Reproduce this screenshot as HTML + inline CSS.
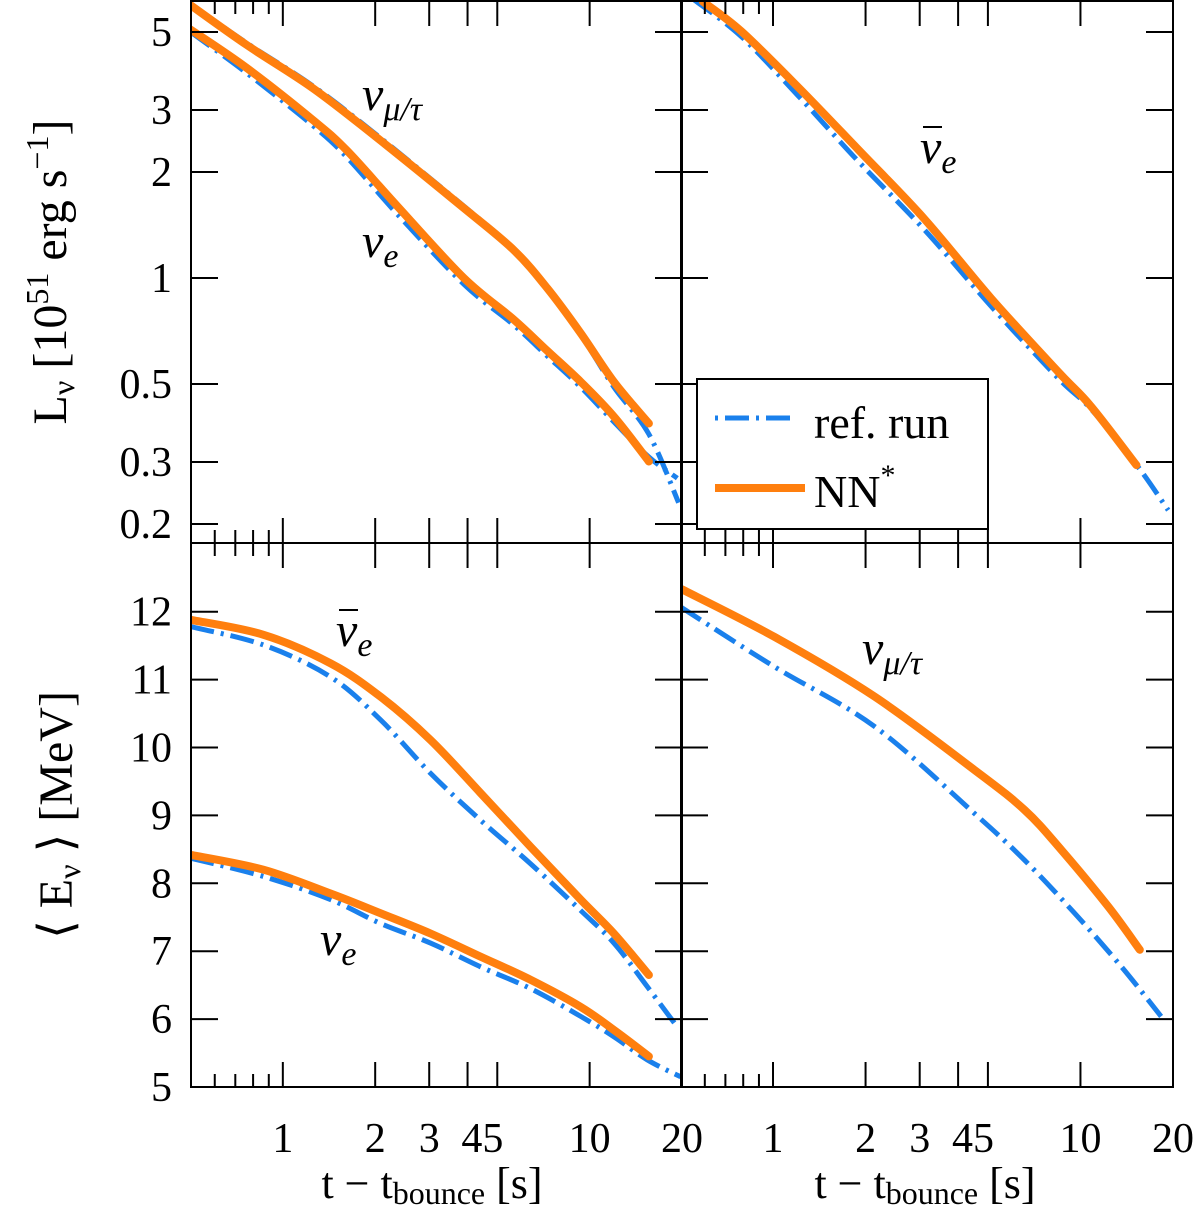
<!DOCTYPE html>
<html><head><meta charset="utf-8"><style>
html,body{margin:0;padding:0;background:#fff;}
svg{display:block;font-family:"Liberation Serif",serif;}
</style></head><body>
<svg id="c" width="1200" height="1210" viewBox="0 0 1200 1210" xmlns="http://www.w3.org/2000/svg"></svg>
<script>
// ---- data ----
const tL_mutau_nn=[0.5,0.763,1.26,2.08,3.89,5.66,7.28,9.35,12.0,15.6];
const L_mutau_nn=[5.96,4.59,3.45,2.46,1.58,1.20,0.935,0.697,0.507,0.386];
const tL_mutau_ref=[0.5,0.763,1.26,2.08,3.89,5.66,7.28,9.35,12.0,15.6,19.5];
const L_mutau_ref=[6.0,4.65,3.5,2.5,1.6,1.21,0.94,0.69,0.49,0.36,0.23];
const tL_e_nn=[0.5,0.763,1.26,1.62,2.36,3.89,5.66,7.28,9.35,12.0,15.6];
const L_e_nn=[5.08,3.95,2.8,2.3,1.6,1.0,0.762,0.621,0.507,0.404,0.301];
const tL_e_ref=[0.5,0.763,1.26,1.62,2.36,3.89,5.66,7.28,9.35,12.0,15.6,19.3];
const L_e_ref=[5.0,3.82,2.7,2.2,1.52,0.96,0.735,0.6,0.49,0.39,0.31,0.27];
const tL_ebar_nn=[0.591,0.789,1.205,1.89,3.11,5.13,8.45,10.8,15.2];
const L_ebar_nn=[6.1,5.02,3.49,2.32,1.47,0.874,0.542,0.433,0.294];
const tL_ebar_ref=[0.55,0.789,1.205,1.89,3.11,5.13,8.45,10.8,15.2,19.3];
const L_ebar_ref=[6.2,4.85,3.3,2.15,1.37,0.83,0.52,0.425,0.295,0.219];
const tE_ebar_nn=[0.5,0.865,1.43,2.08,3.03,4.41,6.41,9.35,12.0,15.6];
const E_ebar_nn=[11.88,11.66,11.24,10.75,10.11,9.33,8.54,7.76,7.26,6.65];
const tE_ebar_ref=[0.5,0.865,1.43,2.08,3.03,4.41,6.41,9.35,12.0,15.4,18.9];
const E_ebar_ref=[11.78,11.51,11.04,10.41,9.62,8.93,8.29,7.6,7.12,6.48,5.94];
const tE_e_nn=[0.5,0.865,1.43,2.08,3.03,4.41,6.41,9.35,12.0,15.6];
const E_e_nn=[8.42,8.20,7.85,7.56,7.26,6.92,6.58,6.18,5.84,5.45];
const tE_e_ref=[0.5,0.865,1.43,2.08,3.03,4.41,6.41,9.35,12.0,15.4,19.8];
const E_e_ref=[8.37,8.10,7.76,7.41,7.12,6.77,6.45,6.04,5.74,5.40,5.15];
const tE_mutau_nn=[0.5,1.01,2.14,4.52,6.58,8.67,12.3,15.6];
const E_mutau_nn=[12.34,11.63,10.75,9.67,9.08,8.49,7.66,7.02];
const tE_mutau_ref=[0.5,1.01,2.14,4.52,6.58,9.57,13.6,18.3];
const E_mutau_ref=[12.07,11.19,10.31,9.03,8.34,7.56,6.77,6.04];
const yTicksL=[5,3,2,1,0.5,0.3,0.2];
const yTicksE=[12,11,10,9,8,7,6,5];
const xMajor=[1,2,3,4,5,10];
const xMinor=[0.6,0.7,0.8,0.9];
// ---- layout ----
const NS="http://www.w3.org/2000/svg";
const svg=document.getElementById('c');
const panelsX=[[191,682],[681,1173]];
const topY=[1,543], botY=[543,1087];
const tMin=Math.log10(0.502), tMax=Math.log10(20);
function xs(p,t){const [a,b]=panelsX[p];return a+(Math.log10(t)-tMin)/(tMax-tMin)*(b-a);}
function yL(v){return 278-352*Math.log10(v);}
function yE(v){return 1087-(v-5)*67.9;}
function el(tag,attrs,parent){const e=document.createElementNS(NS,tag);for(const k in attrs)e.setAttribute(k,attrs[k]);(parent||svg).appendChild(e);return e;}
function txt(s,x,y,size,anchor,parent){const e=el('text',{x:x,y:y,'font-size':size,'text-anchor':anchor||'start'},parent);e.textContent=s;return e;}

const defs=el('defs',{});
[[0,topY],[1,topY],[0,botY],[1,botY]].forEach((q,i)=>{const cp=el('clipPath',{id:'cp'+i},defs);el('rect',{x:panelsX[q[0]][0],y:q[1][0],width:panelsX[q[0]][1]-panelsX[q[0]][0],height:q[1][1]-q[1][0]},cp);});

function smoothPath(P){
  let d='M'+P[0][0].toFixed(1)+','+P[0][1].toFixed(1);
  for(let i=0;i<P.length-1;i++){
    const p0=P[i-1]||P[i],p1=P[i],p2=P[i+1],p3=P[i+2]||P[i+1];
    const c1=[p1[0]+(p2[0]-p0[0])/6,p1[1]+(p2[1]-p0[1])/6];
    const c2=[p2[0]-(p3[0]-p1[0])/6,p2[1]-(p3[1]-p1[1])/6];
    d+=' C'+c1.map(v=>v.toFixed(1))+' '+c2.map(v=>v.toFixed(1))+' '+p2.map(v=>v.toFixed(1));
  }
  return d;
}
function series(p,clip,ts,vs,fy,kind,name){
  const P=ts.map((t,i)=>[xs(p,t),fy(vs[i])]);
  const a={d:smoothPath(P),fill:'none','clip-path':'url(#cp'+clip+')','stroke-linejoin':'round'};
  if(kind==='nn'){a.stroke='#ff7f0e';a['stroke-width']=8;a['stroke-linecap']='round';}
  else{a.stroke='#1a80ec';a['stroke-width']=5;a['stroke-dasharray']='24 7 3 7';}
  const e=el('path',a);
  
  
}
series(0,0,tL_mutau_ref,L_mutau_ref,yL,'ref','ref-lum-numutau');
series(0,0,tL_e_ref,L_e_ref,yL,'ref','ref-lum-nue');
series(0,0,tL_mutau_nn,L_mutau_nn,yL,'nn','nn-lum-numutau');
series(0,0,tL_e_nn,L_e_nn,yL,'nn','nn-lum-nue');
series(1,1,tL_ebar_ref,L_ebar_ref,yL,'ref','ref-lum-nuebar');
series(1,1,tL_ebar_nn,L_ebar_nn,yL,'nn','nn-lum-nuebar');
series(0,2,tE_ebar_ref,E_ebar_ref,yE,'ref','ref-energy-nuebar');
series(0,2,tE_e_ref,E_e_ref,yE,'ref','ref-energy-nue');
series(0,2,tE_ebar_nn,E_ebar_nn,yE,'nn','nn-energy-nuebar');
series(0,2,tE_e_nn,E_e_nn,yE,'nn','nn-energy-nue');
series(1,3,tE_mutau_ref,E_mutau_ref,yE,'ref','ref-energy-numutau');
series(1,3,tE_mutau_nn,E_mutau_nn,yE,'nn','nn-energy-numutau');

const axg=el('g',{stroke:'#000','stroke-width':2,fill:'none'});


[[0,topY],[1,topY],[0,botY],[1,botY]].forEach(q=>{
  const [x0,x1]=panelsX[q[0]],[y0,y1]=q[1];
  el('rect',{x:x0,y:y0,width:x1-x0,height:y1-y0},axg);
  xMajor.forEach(t=>{const x=xs(q[0],t);el('line',{x1:x,y1:y0,x2:x,y2:y0+25},axg);el('line',{x1:x,y1:y1,x2:x,y2:y1-25},axg);});
  xMinor.forEach(t=>{const x=xs(q[0],t);el('line',{x1:x,y1:y0,x2:x,y2:y0+13},axg);el('line',{x1:x,y1:y1,x2:x,y2:y1-13},axg);});
  const ticks=q[1]===topY?yTicksL:yTicksE, f=q[1]===topY?yL:yE;
  ticks.forEach(v=>{const y=f(v);if(y<y0+2||y>y1-2)return;el('line',{x1:x0,y1:y,x2:x0+27,y2:y},axg);el('line',{x1:x1,y1:y,x2:x1-27,y2:y},axg);});
});

const tl=el('g',{fill:'#000'});


yTicksL.forEach(v=>txt(String(v),172,yL(v)+14,42,'end',tl));
yTicksE.forEach(v=>txt(String(v),172,yE(v)+14,42,'end',tl));
[0,1].forEach(p=>{
  [[1,'1'],[2,'2'],[3,'3'],[10,'10'],[20,'20']].forEach(([t,s])=>txt(s,xs(p,t),1152,42,'middle',tl));
  txt('45',(xs(p,4)+xs(p,5))/2,1152,42,'middle',tl);
});

const yt1=el('text',{x:0,y:0,'font-size':48,'text-anchor':'middle',transform:'translate(66,272) rotate(-90)'});


yt1.innerHTML='L<tspan font-size="32" dy="8">ν</tspan><tspan dy="-8"> [10</tspan><tspan font-size="32" dy="-18">51</tspan><tspan dy="18"> erg s</tspan><tspan font-size="32" dy="-18">−1</tspan><tspan dy="18">]</tspan>';
const yt2=el('text',{x:0,y:0,'font-size':48,'text-anchor':'middle',transform:'translate(72,815) rotate(-90)'});


yt2.innerHTML='⟨ E<tspan font-size="32" dy="8">ν</tspan><tspan dy="-8"> ⟩ [MeV]</tspan>';
[432,925].forEach((cx,i)=>{
  const t=el('text',{x:cx,y:1198,'font-size':44,'text-anchor':'middle'});
  
  
  t.innerHTML='t − t<tspan font-size="32" dy="6">bounce</tspan><tspan dy="-6">  [s]</tspan>';
});

function nuLabel(x,y,sub,bar,name){
  const g=el('text',{x:x,y:y,'font-size':48,'font-style':'italic'});
  
  
  g.innerHTML='ν<tspan font-size="34" dy="10">'+sub+'</tspan>';
  if(bar){const b=el('line',{x1:x+3,y1:y-36,x2:x+22,y2:y-36,stroke:'#000','stroke-width':2});}
}
nuLabel(362,110,'μ/τ',false,'label-numutau-top');
nuLabel(362,257,'e',false,'label-nue-top');
nuLabel(920,163,'e',true,'label-nuebar-top');
nuLabel(336,646,'e',true,'label-nuebar-bottom');
nuLabel(320,955,'e',false,'label-nue-bottom');
nuLabel(862,664,'μ/τ',false,'label-numutau-bottom');

const lg=el('g',{});


el('rect',{x:697,y:379,width:291,height:150,fill:'#fff',stroke:'#000','stroke-width':2},lg);
el('line',{x1:715,y1:418,x2:793,y2:418,stroke:'#1a80ec','stroke-width':5,'stroke-dasharray':'3 7 24 7 3 7 24'},lg);
el('line',{x1:715,y1:488,x2:805,y2:488,stroke:'#ff7f0e','stroke-width':8},lg);
const l1=txt('ref. run',814,438,46,'start',lg);
const l2=el('text',{x:814,y:507,'font-size':46},lg);
l2.innerHTML='NN<tspan font-size="30" dy="-22">*</tspan>';
</script>
</body></html>
